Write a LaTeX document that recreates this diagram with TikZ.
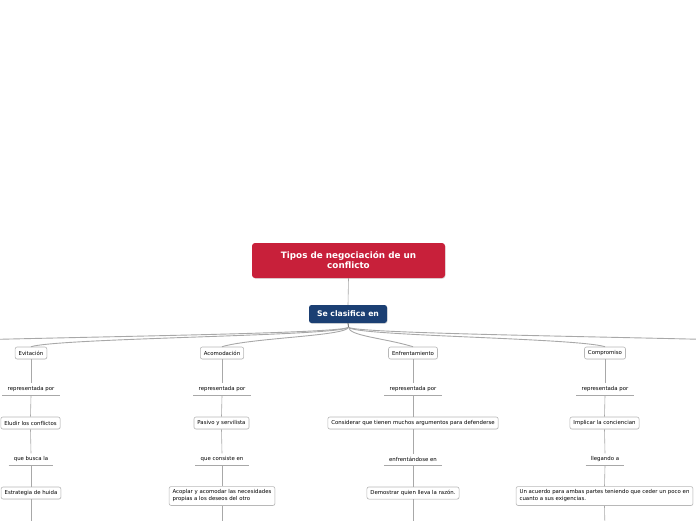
\documentclass[tikz,border=0pt]{standalone}
\usepackage{fontspec}
\setmainfont{DejaVu Sans}
\usetikzlibrary{shadows}
\definecolor{tred}{HTML}{C8203A}
\definecolor{tblue}{HTML}{1B3F73}
\definecolor{lgray}{HTML}{A8A8A8}
\definecolor{bgray}{HTML}{B8B8B8}
\begin{document}
\begin{tikzpicture}[x=1pt,y=-1pt,
 titlebox/.style={fill=tred, rounded corners=3pt, text=white, font=\fontsize{8.8}{10}\selectfont\bfseries, align=center, minimum width=193pt, minimum height=35pt, drop shadow={shadow xshift=0.6pt, shadow yshift=-0.8pt, opacity=0.25}},
 subbox/.style={fill=tblue, rounded corners=2.5pt, text=white, font=\fontsize{7.7}{8.5}\selectfont\bfseries, minimum width=78pt, minimum height=18pt, drop shadow={shadow xshift=0.6pt, shadow yshift=-0.8pt, opacity=0.25}},
 box/.style={draw=bgray, fill=white, rounded corners=2pt, font=\fontsize{5.4}{7}\selectfont, inner xsep=3.5pt, minimum height=12pt, line width=0.6pt, drop shadow={shadow xshift=0.4pt, shadow yshift=-0.5pt, opacity=0.15}},
 mbox/.style={box, align=left, minimum height=18pt},
 lab/.style={font=\fontsize{5.4}{6.5}\selectfont, minimum height=10pt, inner xsep=5pt, append after command={(\tikzlastnode.south west) edge[draw=lgray, line width=0.6pt] (\tikzlastnode.south east)}},
 conn/.style={draw=lgray, line width=0.6pt},
 branch/.style={draw=lgray, line width=0.9pt}
]
\useasboundingbox (0,0) rectangle (696,520);
\clip (0,0) rectangle (696,520);

\node[titlebox] (title) at (348.5,260.5) {Tipos de negociación de un\\conflicto};
\node[subbox] (sub) at (348,314) {Se clasifica en};
\coordinate (hub) at (348.5,327);
\draw[conn] (title.south) -- (sub.north);
\draw[draw=black!70, line width=0.8pt] (sub.south) -- (hub);

% level 1
\node[box] (ev) at (31,353) {Evitación};
\node[box] (ac) at (222,353) {Acomodación};
\node[box] (en) at (413,353) {Enfrentamiento};
\node[box] (co) at (605,353) {Compromiso};
\coordinate (offL) at (-170,347);
\coordinate (offR) at (870,347);

\draw[branch] (hub) .. controls +(0,9) and +(30,-9) .. (ev.north);
\draw[branch] (hub) .. controls +(0,9) and +(30,-9) .. (ac.north);
\draw[branch] (hub) .. controls +(0,9) and +(-30,-9) .. (en.north);
\draw[branch] (hub) .. controls +(0,9) and +(-30,-9) .. (co.north);
\draw[branch] (hub) .. controls +(0,9) and +(30,-9) .. (offL);
\draw[branch] (hub) .. controls +(0,9) and +(-30,-9) .. (offR);

% labels 1
\node[lab] (ev1) at (31,389.5) {representada por};
\node[lab] (ac1) at (222,389.5) {representada por};
\node[lab] (en1) at (413,389.5) {representada por};
\node[lab] (co1) at (605,389.5) {representada por};

% level 2
\node[box] (ev2) at (30.5,423) {Eludir los conflictos};
\node[box] (ac2) at (221.5,423) {Pasivo y servilista};
\node[box] (en2) at (413,423) {Considerar que tienen muchos argumentos para defenderse};
\node[box] (co2) at (604.5,423) {Implicar la conciencian};

% labels 2
\node[lab] (ev3l) at (31,459.5) {que busca la};
\node[lab] (ac3l) at (222,459.5) {que consiste en};
\node[lab] (en3l) at (413,459.5) {enfrentándose en};
\node[lab] (co3l) at (605,459.5) {llegando a};

% level 3
\node[box] (ev3) at (31,493) {Estrategia de huida};
\node[mbox] (ac3) at (222,496) {Acoplar y acomodar las necesidades\\propias a los deseos del otro};
\node[box] (en3) at (413,493) {Demostrar quien lleva la razón.};
\node[mbox] (co3) at (604.5,496) {Un acuerdo para ambas partes teniendo que ceder un poco en\\cuanto a sus exigencias.};

\foreach \a/\b/\c/\d/\e/\f in {ev/ev1/ev2/ev3l/ev3/31, ac/ac1/ac2/ac3l/ac3/222, en/en1/en2/en3l/en3/413, co/co1/co2/co3l/co3/605}{
  \draw[conn] (\a.south) -- (\b.north);
  \draw[conn] (\b.south) -- (\c.north);
  \draw[conn] (\c.south) -- (\d.north);
  \draw[conn] (\d.south) -- (\e.north);
  \coordinate (\e-end) at (\f,530);
  \draw[conn] (\e.south) -- (\e-end);
}
\end{tikzpicture}
\end{document}
